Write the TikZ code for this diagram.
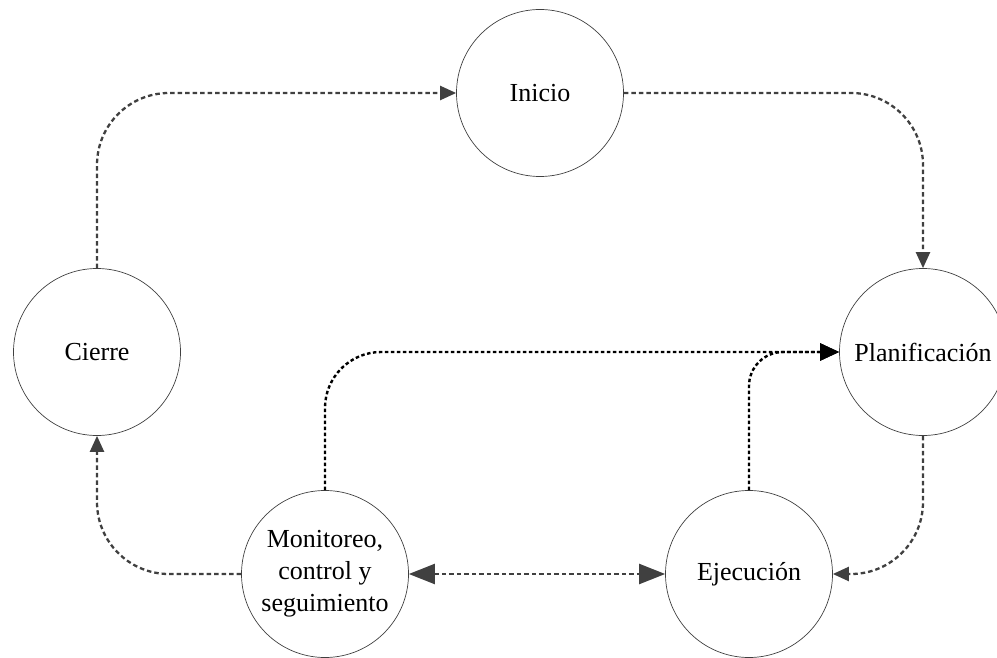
\documentclass[tikz,border=0pt]{standalone}
\usepackage{fontspec}
\setmainfont{Liberation Serif}
\usetikzlibrary{arrows.meta}
\definecolor{edgegray}{HTML}{404040}
\begin{document}
\begin{tikzpicture}[x=1pt,y=-1pt,
  phase/.style={circle, draw=black!75, line width=0.7pt, minimum size=167pt,
    inner sep=0pt, align=center, font=\fontsize{26}{32}\selectfont},
  flow/.style={draw=edgegray, line width=2.3pt, dash pattern=on 4.5pt off 3pt,
    rounded corners=72pt, -{Triangle[length=16pt,width=14pt,fill=edgegray]}},
  feedback/.style={draw=black, line width=2.4pt, dash pattern=on 3.5pt off 2.5pt,
    -{Triangle[length=19pt,width=17pt,fill=black]}},
  twoway/.style={draw=edgegray, line width=2.3pt, dash pattern=on 4.5pt off 3pt,
    {Triangle[length=26pt,width=20pt,fill=edgegray]}-{Triangle[length=26pt,width=20pt,fill=edgegray]}}
]
\useasboundingbox (0,0) rectangle (997,658);

% project phases
\node[phase] (ini) at (540,93)  {Inicio};
\node[phase] (pla) at (923,352) {Planificación};
\node[phase] (eje) at (749,574) {Ejecución};
\node[phase] (mon) at (325,574) {Monitoreo,\\control y\\seguimiento};
\node[phase] (cie) at (97,352)  {Cierre};

% main cycle
\draw[flow] (cie.north) |- (ini.west);
\draw[flow] (ini.east) -| (pla.north);
\draw[flow] (pla.south) |- (eje.east);
\draw[flow] (mon.west) -| (cie.south);
\draw[twoway] (mon.east) -- (eje.west);

% feedback to planning
\draw[feedback, rounded corners=56pt] (mon.north) |- (pla.west);
\draw[feedback, rounded corners=34pt] (eje.north) |- (pla.west);
\end{tikzpicture}
\end{document}
